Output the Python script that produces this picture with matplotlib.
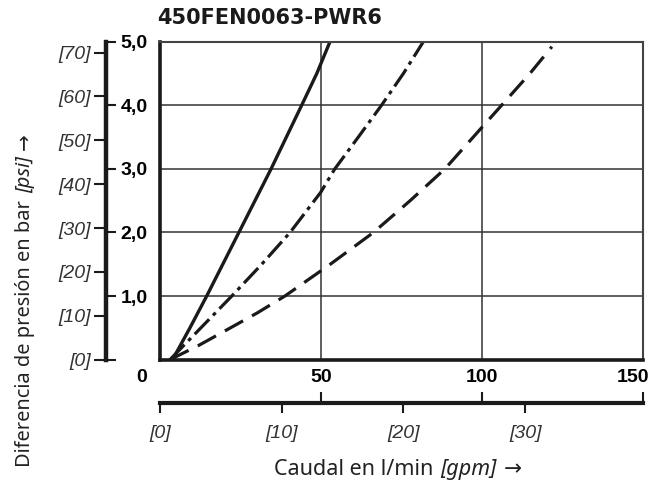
import matplotlib
matplotlib.use("Agg")
import matplotlib.pyplot as plt
from matplotlib.transforms import ScaledTranslation, IdentityTransform

# ---- data ----
title = "450FEN0063-PWR6"
solid_q = [4.0, 9.4, 14.6, 24.6, 34.6, 44.1, 48.8, 52.9]
solid_p = [0.0, 0.5, 1.0, 2.0, 3.0, 4.0, 4.5, 5.0]
dashdot_q = [3.2, 12.8, 22.4, 31.7, 40.5, 50.0, 54.4, 61.7, 68.9, 75.7, 81.9]
dashdot_p = [0.0, 0.5, 1.0, 1.5, 2.0, 2.63, 3.0, 3.5, 4.0, 4.5, 5.0]
dashed_q = [3.2, 12.0, 22.0, 30.5, 38.9, 53.0, 66.4, 77.8, 88.6, 97.4, 106.2, 115.0, 121.8]
dashed_p = [0.0, 0.22, 0.5, 0.74, 1.0, 1.5, 2.0, 2.5, 3.0, 3.5, 4.0, 4.5, 4.92]
x_ticks = [0, 50, 100, 150]
x_ticklabels = ["0", "50", "100", "150"]
bar_ticks = [0, 1, 2, 3, 4, 5]
bar_ticklabels = ["", "1,0", "2,0", "3,0", "4,0", "5,0"]
psi_values = [0, 10, 20, 30, 40, 50, 60, 70]
gpm_values = [0, 10, 20, 30]
xlabel_parts = ["Caudal en l/min", "[gpm]", "→"]
ylabel_parts = ["Diferencia de presión en bar", "[psi]", "→"]
PSI_PER_BAR = 14.5038
LPM_PER_GPM = 3.78541

W, H = 669, 484
fig = plt.figure(figsize=(W / 100, H / 100), dpi=100)


def fx(px):
    return px / W


def fy(py):
    return 1 - py / H


x0, x1 = 159.7, 642.7
y0, y1 = 359.6, 41.6
ax = fig.add_axes([fx(x0), fy(y0), fx(x1) - fx(x0), fy(y1) - fy(y0)])
ax.set_xlim(0, 150)
ax.set_ylim(0, 5)

ax.set_xticks(x_ticks)
ax.set_xticklabels(x_ticklabels, fontfamily="Liberation Sans", fontweight="bold", fontsize=14)
ax.tick_params(axis="x", length=0, pad=7)
ax.set_yticks(bar_ticks)
ax.tick_params(axis="y", length=0, labelleft=False)
ax.grid(True, color="#333333", linewidth=1.1)
ax.set_axisbelow(True)
for side in ("left", "bottom"):
    ax.spines[side].set_linewidth(2.6)
    ax.spines[side].set_color("#1a1a1a")
for side in ("top", "right"):
    ax.spines[side].set_linewidth(1.5)
    ax.spines[side].set_color("#444444")

offsets = {0: -18, 3: -10}
for i, lab in enumerate(ax.get_xticklabels()):
    if i in offsets:
        lab.set_transform(lab.get_transform() + ScaledTranslation(offsets[i] / 100, 0, fig.dpi_scale_trans))

lc = "#1a1a1a"
ax.plot(solid_q, solid_p, color=lc, lw=2.4, solid_capstyle="butt", solid_joinstyle="round")
ax.plot(dashdot_q, dashdot_p, color=lc, lw=2.3, dashes=(6.5, 1.7, 1.2, 1.7), dash_capstyle="butt")
ax.plot(dashed_q, dashed_p, color=lc, lw=2.3, dashes=(6.5, 3.2), dash_capstyle="butt")

# ---- left double scale (bar / psi) ----
xa = 105.5
ax_bar = fig.add_axes([fx(xa) - 0.02, fy(y0), 0.02, fy(y1) - fy(y0)])
ax_bar.set_ylim(0, 5)
ax_bar.set_xticks([])
for s in ("left", "top", "bottom"):
    ax_bar.spines[s].set_visible(False)
ax_bar.spines["right"].set_linewidth(3.2)
ax_bar.spines["right"].set_color("#1a1a1a")
ax_bar.patch.set_alpha(0)
ax_bar.yaxis.tick_right()
ax_bar.set_yticks(bar_ticks)
ax_bar.set_yticklabels(bar_ticklabels, fontfamily="Liberation Sans", fontweight="bold", fontsize=14)
ax_bar.tick_params(axis="y", direction="out", length=7, width=1.5, color="#1a1a1a", pad=4)

ax_psi = fig.add_axes([fx(xa), fy(y0), 0.02, fy(y1) - fy(y0)])
ax_psi.set_ylim(0, 5)
ax_psi.set_xticks([])
for s in ("right", "top", "bottom", "left"):
    ax_psi.spines[s].set_visible(False)
ax_psi.patch.set_alpha(0)
ax_psi.set_yticks([v / PSI_PER_BAR for v in psi_values])
ax_psi.set_yticklabels([f"[{v}]" for v in psi_values], fontfamily="Liberation Sans",
                       style="italic", fontsize=14, color="#333333")
ax_psi.tick_params(axis="y", direction="out", length=8.5, width=1.5, color="#1a1a1a", pad=2)

# ---- bottom double scale (l/min / gpm) ----
yg = 403
ax_g = fig.add_axes([fx(x0), fy(yg), fx(x1) - fx(x0), 0.01])
ax_g.set_xlim(0, 150)
ax_g.set_yticks([])
for s in ("left", "top", "right"):
    ax_g.spines[s].set_visible(False)
ax_g.spines["bottom"].set_linewidth(3.0)
ax_g.spines["bottom"].set_color("#1a1a1a")
ax_g.patch.set_alpha(0)
ax_g.set_xticks([v * LPM_PER_GPM for v in gpm_values])
ax_g.set_xticklabels([f"[{v}]" for v in gpm_values], fontfamily="Liberation Sans",
                     style="italic", fontsize=14, color="#333333")
ax_g.tick_params(axis="x", which="major", direction="out", length=7.5, width=1.5, color="#1a1a1a", pad=8)
ax_g.set_xticks(x_ticks, minor=True)
ax_g.tick_params(axis="x", which="minor", direction="in", length=8, width=1.5, color="#1a1a1a")

# ---- titles ----
fig.text(fx(157), fy(18), title, ha="left", va="center", fontfamily="DejaVu Sans",
         fontweight="bold", fontsize=15, color="#1a1a1a")

renderer = fig.canvas.get_renderer()


def multi_label(parts, center_px, across_px, target_len, rotated, fs=14, max_fs=15.5):
    styles = ["normal", "italic", "normal"]
    fams = [["Noto Sans", "DejaVu Sans"], ["Noto Sans", "DejaVu Sans"], ["DejaVu Sans"]]
    texts = []
    for s, st, fam in zip(parts, styles, fams):
        t = fig.text(0, 0, s, transform=IdentityTransform(), fontfamily=fam, style=st,
                     fontsize=fs, color="#222222", ha="left", va="baseline",
                     rotation=90 if rotated else 0, rotation_mode="anchor")
        texts.append(t)
    gap = fs * 0.45
    lens = []
    for t in texts:
        bb = t.get_window_extent(renderer)
        lens.append(bb.height if rotated else bb.width)
    total = sum(lens) + gap * (len(texts) - 1)
    new_fs = min(fs * target_len / total, max_fs)
    scale = new_fs / fs
    for t in texts:
        t.set_fontsize(new_fs)
    lens = [l * scale for l in lens]
    gap *= scale
    total = sum(lens) + gap * (len(texts) - 1)
    pos = center_px - total / 2
    for t, l in zip(texts, lens):
        if rotated:
            t.set_position((across_px, pos))
        else:
            t.set_position((pos, across_px))
        pos += l + gap


# x label: centred at x ~398 px, baseline ~475 px from top
multi_label(xlabel_parts, 398, H - 475, 273, rotated=False)
# y label: centred at y ~300 px from top, baseline at x ~30 px
multi_label(ylabel_parts, H - 300, 30, 334, rotated=True)

fig.savefig("out.png", dpi=100)
